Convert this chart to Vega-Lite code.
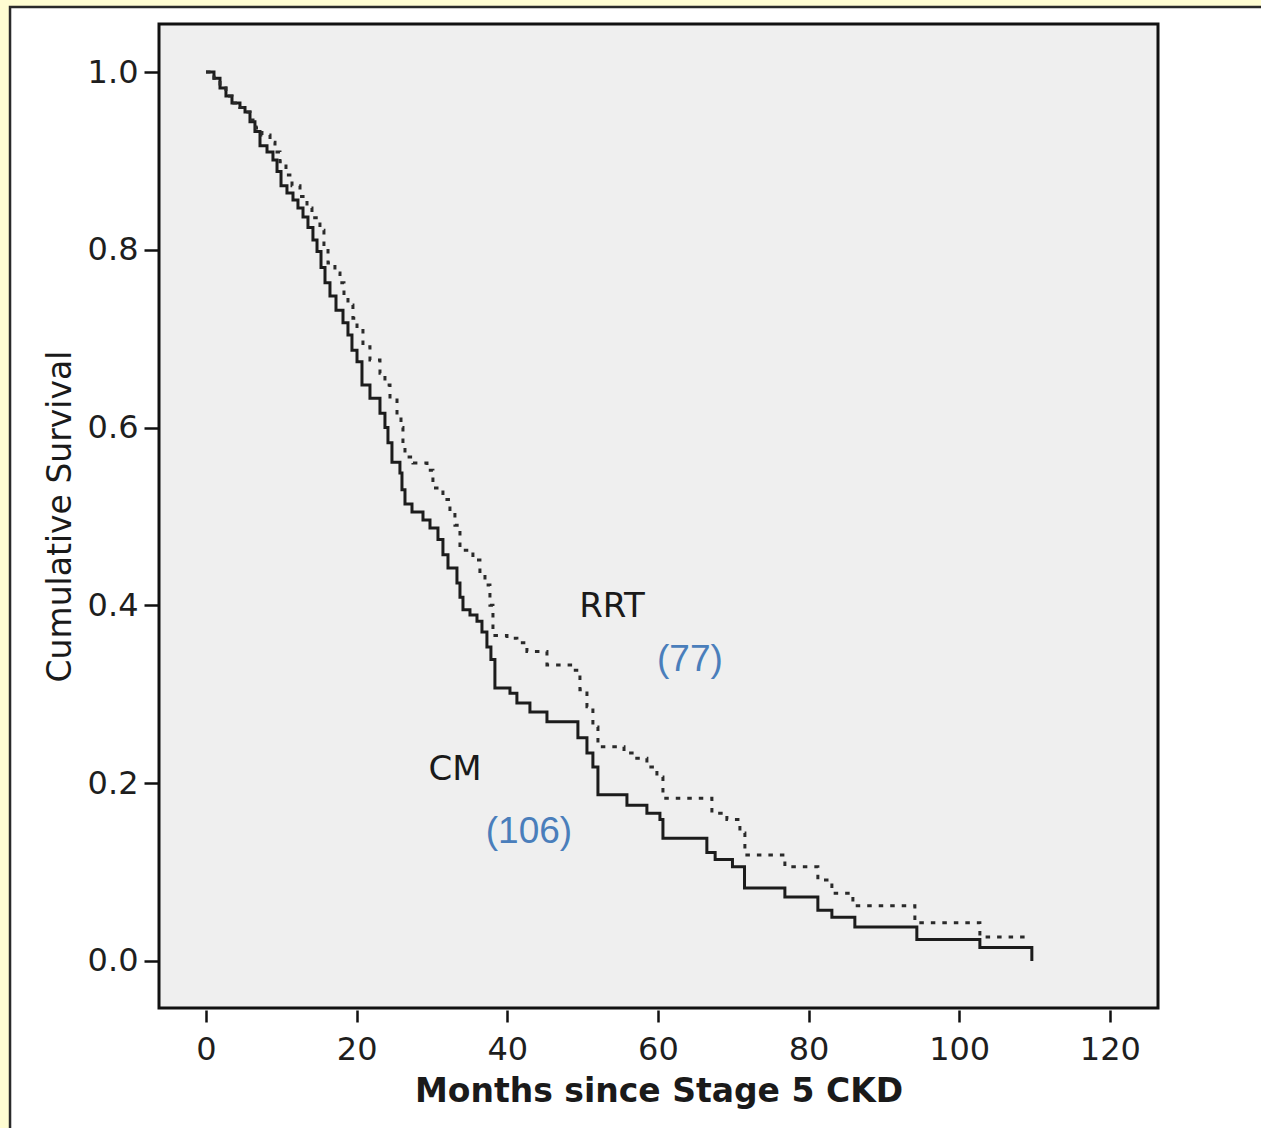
{
  "$schema": "https://vega.github.io/schema/vega-lite/v6.json",
  "width": 999,
  "height": 984,
  "autosize": {"type": "none"},
  "padding": {"left": 159, "top": 24, "right": 103, "bottom": 120},
  "background": "#FFFDD2",
  "config": {
    "view": {"stroke": null},
    "font": "DejaVu Sans",
    "axis": {
      "grid": false,
      "domain": false,
      "tickColor": "#111111",
      "tickWidth": 2.5,
      "labelFont": "DejaVu Sans",
      "labelFontSize": 32,
      "labelColor": "#1e1e1e",
      "titleFont": "DejaVu Sans",
      "titleFontSize": 33,
      "titleColor": "#1a1a1a",
      "labelFlush": false,
      "labelOverlap": false
    },
    "axisX": {"tickSize": 12, "offset": 2, "labelPadding": 12, "titlePadding": 10, "titleFontWeight": "bold"},
    "axisY": {"tickSize": 14, "offset": 1, "labelPadding": 6, "titlePadding": 10, "titleFontWeight": "normal"}
  },
  "datasets": {
    "panel": [{"part": "panel"}],
    "km": [
      {"group": "CM", "month": 0, "survival": 1.0},
      {"group": "CM", "month": 1.06, "survival": 0.993},
      {"group": "CM", "month": 1.86, "survival": 0.982},
      {"group": "CM", "month": 2.65, "survival": 0.973},
      {"group": "CM", "month": 3.45, "survival": 0.965},
      {"group": "CM", "month": 4.51, "survival": 0.96},
      {"group": "CM", "month": 5.18, "survival": 0.955},
      {"group": "CM", "month": 5.84, "survival": 0.944},
      {"group": "CM", "month": 6.5, "survival": 0.933},
      {"group": "CM", "month": 7.17, "survival": 0.917},
      {"group": "CM", "month": 8.1, "survival": 0.91},
      {"group": "CM", "month": 8.89, "survival": 0.901},
      {"group": "CM", "month": 9.43, "survival": 0.888},
      {"group": "CM", "month": 9.96, "survival": 0.872},
      {"group": "CM", "month": 10.75, "survival": 0.864},
      {"group": "CM", "month": 11.55, "survival": 0.856},
      {"group": "CM", "month": 12.21, "survival": 0.847},
      {"group": "CM", "month": 12.88, "survival": 0.837},
      {"group": "CM", "month": 13.54, "survival": 0.825},
      {"group": "CM", "month": 14.2, "survival": 0.811},
      {"group": "CM", "month": 14.74, "survival": 0.798},
      {"group": "CM", "month": 15.27, "survival": 0.78},
      {"group": "CM", "month": 15.8, "survival": 0.763},
      {"group": "CM", "month": 16.46, "survival": 0.748},
      {"group": "CM", "month": 17.26, "survival": 0.732},
      {"group": "CM", "month": 18.19, "survival": 0.718},
      {"group": "CM", "month": 18.85, "survival": 0.704},
      {"group": "CM", "month": 19.38, "survival": 0.687},
      {"group": "CM", "month": 20.05, "survival": 0.674},
      {"group": "CM", "month": 20.71, "survival": 0.648},
      {"group": "CM", "month": 21.77, "survival": 0.633},
      {"group": "CM", "month": 23.1, "survival": 0.616},
      {"group": "CM", "month": 23.76, "survival": 0.6},
      {"group": "CM", "month": 24.16, "survival": 0.583},
      {"group": "CM", "month": 24.69, "survival": 0.561},
      {"group": "CM", "month": 25.75, "survival": 0.549},
      {"group": "CM", "month": 26.02, "survival": 0.53},
      {"group": "CM", "month": 26.42, "survival": 0.514},
      {"group": "CM", "month": 27.35, "survival": 0.505},
      {"group": "CM", "month": 28.81, "survival": 0.496},
      {"group": "CM", "month": 29.74, "survival": 0.487},
      {"group": "CM", "month": 30.8, "survival": 0.474},
      {"group": "CM", "month": 31.46, "survival": 0.457},
      {"group": "CM", "month": 32.13, "survival": 0.442},
      {"group": "CM", "month": 33.32, "survival": 0.425},
      {"group": "CM", "month": 33.72, "survival": 0.409},
      {"group": "CM", "month": 34.12, "survival": 0.395},
      {"group": "CM", "month": 35.05, "survival": 0.389},
      {"group": "CM", "month": 35.98, "survival": 0.382},
      {"group": "CM", "month": 36.64, "survival": 0.37},
      {"group": "CM", "month": 37.3, "survival": 0.353},
      {"group": "CM", "month": 37.83, "survival": 0.339},
      {"group": "CM", "month": 38.36, "survival": 0.307},
      {"group": "CM", "month": 40.36, "survival": 0.301},
      {"group": "CM", "month": 41.28, "survival": 0.29},
      {"group": "CM", "month": 43.01, "survival": 0.28},
      {"group": "CM", "month": 45.27, "survival": 0.269},
      {"group": "CM", "month": 49.38, "survival": 0.251},
      {"group": "CM", "month": 50.58, "survival": 0.234},
      {"group": "CM", "month": 51.37, "survival": 0.218},
      {"group": "CM", "month": 52.04, "survival": 0.187},
      {"group": "CM", "month": 55.89, "survival": 0.175},
      {"group": "CM", "month": 58.54, "survival": 0.166},
      {"group": "CM", "month": 60.27, "survival": 0.159},
      {"group": "CM", "month": 60.67, "survival": 0.138},
      {"group": "CM", "month": 66.5, "survival": 0.122},
      {"group": "CM", "month": 67.6, "survival": 0.114},
      {"group": "CM", "month": 69.9, "survival": 0.106},
      {"group": "CM", "month": 71.5, "survival": 0.082},
      {"group": "CM", "month": 76.86, "survival": 0.072},
      {"group": "CM", "month": 81.24, "survival": 0.057},
      {"group": "CM", "month": 83.1, "survival": 0.049},
      {"group": "CM", "month": 86.15, "survival": 0.038},
      {"group": "CM", "month": 94.38, "survival": 0.024},
      {"group": "CM", "month": 102.75, "survival": 0.015},
      {"group": "CM", "month": 109.65, "survival": 0.0},
      {"group": "RRT", "month": 0, "survival": 1.0},
      {"group": "RRT", "month": 1.06, "survival": 0.993},
      {"group": "RRT", "month": 1.86, "survival": 0.982},
      {"group": "RRT", "month": 2.65, "survival": 0.973},
      {"group": "RRT", "month": 3.45, "survival": 0.965},
      {"group": "RRT", "month": 4.51, "survival": 0.96},
      {"group": "RRT", "month": 5.18, "survival": 0.955},
      {"group": "RRT", "month": 5.84, "survival": 0.946},
      {"group": "RRT", "month": 6.64, "survival": 0.937},
      {"group": "RRT", "month": 7.43, "survival": 0.929},
      {"group": "RRT", "month": 8.5, "survival": 0.921},
      {"group": "RRT", "month": 9.16, "survival": 0.91},
      {"group": "RRT", "month": 9.82, "survival": 0.899},
      {"group": "RRT", "month": 10.62, "survival": 0.884},
      {"group": "RRT", "month": 11.42, "survival": 0.872},
      {"group": "RRT", "month": 12.48, "survival": 0.86},
      {"group": "RRT", "month": 13.41, "survival": 0.847},
      {"group": "RRT", "month": 14.07, "survival": 0.836},
      {"group": "RRT", "month": 15.13, "survival": 0.822},
      {"group": "RRT", "month": 15.66, "survival": 0.802},
      {"group": "RRT", "month": 16.2, "survival": 0.785},
      {"group": "RRT", "month": 17.12, "survival": 0.774},
      {"group": "RRT", "month": 17.79, "survival": 0.763},
      {"group": "RRT", "month": 18.32, "survival": 0.749},
      {"group": "RRT", "month": 18.85, "survival": 0.738},
      {"group": "RRT", "month": 19.51, "survival": 0.723},
      {"group": "RRT", "month": 20.05, "survival": 0.712},
      {"group": "RRT", "month": 20.84, "survival": 0.691},
      {"group": "RRT", "month": 21.77, "survival": 0.676},
      {"group": "RRT", "month": 23.1, "survival": 0.661},
      {"group": "RRT", "month": 23.76, "survival": 0.648},
      {"group": "RRT", "month": 24.43, "survival": 0.631},
      {"group": "RRT", "month": 25.36, "survival": 0.614},
      {"group": "RRT", "month": 25.89, "survival": 0.6},
      {"group": "RRT", "month": 26.15, "survival": 0.58},
      {"group": "RRT", "month": 26.42, "survival": 0.567},
      {"group": "RRT", "month": 27.48, "survival": 0.56},
      {"group": "RRT", "month": 29.34, "survival": 0.552},
      {"group": "RRT", "month": 30.13, "survival": 0.532},
      {"group": "RRT", "month": 31.46, "survival": 0.519},
      {"group": "RRT", "month": 32.39, "survival": 0.505},
      {"group": "RRT", "month": 33.05, "survival": 0.49},
      {"group": "RRT", "month": 33.72, "survival": 0.462},
      {"group": "RRT", "month": 35.44, "survival": 0.451},
      {"group": "RRT", "month": 36.37, "survival": 0.438},
      {"group": "RRT", "month": 37.04, "survival": 0.423},
      {"group": "RRT", "month": 37.7, "survival": 0.4},
      {"group": "RRT", "month": 38.1, "survival": 0.366},
      {"group": "RRT", "month": 39.96, "survival": 0.363},
      {"group": "RRT", "month": 41.28, "survival": 0.358},
      {"group": "RRT", "month": 42.61, "survival": 0.348},
      {"group": "RRT", "month": 45.27, "survival": 0.333},
      {"group": "RRT", "month": 48.72, "survival": 0.327},
      {"group": "RRT", "month": 49.65, "survival": 0.305},
      {"group": "RRT", "month": 50.58, "survival": 0.286},
      {"group": "RRT", "month": 51.37, "survival": 0.263},
      {"group": "RRT", "month": 52.04, "survival": 0.241},
      {"group": "RRT", "month": 55.5, "survival": 0.234},
      {"group": "RRT", "month": 56.9, "survival": 0.228},
      {"group": "RRT", "month": 58.54, "survival": 0.218},
      {"group": "RRT", "month": 59.87, "survival": 0.207},
      {"group": "RRT", "month": 60.67, "survival": 0.183},
      {"group": "RRT", "month": 67.17, "survival": 0.166},
      {"group": "RRT", "month": 69.16, "survival": 0.159},
      {"group": "RRT", "month": 70.89, "survival": 0.144},
      {"group": "RRT", "month": 71.55, "survival": 0.119},
      {"group": "RRT", "month": 76.86, "survival": 0.106},
      {"group": "RRT", "month": 81.24, "survival": 0.091},
      {"group": "RRT", "month": 83.1, "survival": 0.076},
      {"group": "RRT", "month": 85.89, "survival": 0.062},
      {"group": "RRT", "month": 94.12, "survival": 0.043},
      {"group": "RRT", "month": 102.75, "survival": 0.027},
      {"group": "RRT", "month": 109.4, "survival": 0.027}
    ],
    "labels": [
      {"text": "RRT", "month": 53.9, "survival": 0.398},
      {"text": "CM", "month": 33.05, "survival": 0.2148}
    ],
    "counts": [
      {"text": "(77)", "month": 64.25, "survival": 0.3386},
      {"text": "(106)", "month": 42.88, "survival": 0.1451}
    ]
  },
  "layer": [
    {
      "data": {"name": "panel"},
      "mark": {"type": "rect", "fill": "#FFFFFF", "stroke": "#2a2a2a", "strokeWidth": 2.5},
      "encoding": {
        "x": {"datum": -26.02, "type": "quantitative", "scale": {"domain": [-6.24, 126.4], "nice": false, "zero": false},
              "axis": {"title": "Months since Stage 5 CKD", "values": [0, 20, 40, 60, 80, 100, 120], "format": "d", "zindex": 1}},
        "x2": {"datum": 400},
        "y": {"datum": 1.0731, "type": "quantitative", "scale": {"domain": [-0.053, 1.054], "nice": false, "zero": false},
              "axis": {"title": "Cumulative Survival", "values": [0, 0.2, 0.4, 0.6, 0.8, 1.0], "format": ".1f", "zindex": 1}},
        "y2": {"datum": -2}
      }
    },
    {
      "data": {"name": "panel"},
      "mark": {"type": "rect", "fill": "#EFEFEF", "stroke": "#111111", "strokeWidth": 3},
      "encoding": {
        "x": {"datum": -6.24, "type": "quantitative", "scale": {"domain": [-6.24, 126.4], "nice": false, "zero": false},
              "axis": {"title": "Months since Stage 5 CKD", "values": [0, 20, 40, 60, 80, 100, 120], "format": "d", "zindex": 1}},
        "x2": {"datum": 126.4},
        "y": {"datum": 1.054, "type": "quantitative", "scale": {"domain": [-0.053, 1.054], "nice": false, "zero": false},
              "axis": {"title": "Cumulative Survival", "values": [0, 0.2, 0.4, 0.6, 0.8, 1.0], "format": ".1f", "zindex": 1}},
        "y2": {"datum": -0.053}
      }
    },
    {
      "data": {"name": "km"},
      "transform": [{"filter": "datum.group === 'CM'"}],
      "mark": {"type": "line", "interpolate": "step-after", "color": "#1c1c1c", "strokeWidth": 3},
      "encoding": {
        "x": {"field": "month", "type": "quantitative", "scale": {"domain": [-6.24, 126.4], "nice": false, "zero": false},
              "axis": {"title": "Months since Stage 5 CKD", "values": [0, 20, 40, 60, 80, 100, 120], "format": "d", "zindex": 1}},
        "y": {"field": "survival", "type": "quantitative", "scale": {"domain": [-0.053, 1.054], "nice": false, "zero": false},
              "axis": {"title": "Cumulative Survival", "values": [0, 0.2, 0.4, 0.6, 0.8, 1.0], "format": ".1f", "zindex": 1}}
      }
    },
    {
      "data": {"name": "km"},
      "transform": [{"filter": "datum.group === 'RRT'"}],
      "mark": {"type": "line", "interpolate": "step-after", "color": "#2a2a2a", "strokeWidth": 3, "strokeDash": [4.5, 7]},
      "encoding": {
        "x": {"field": "month", "type": "quantitative", "scale": {"domain": [-6.24, 126.4], "nice": false, "zero": false},
              "axis": {"title": "Months since Stage 5 CKD", "values": [0, 20, 40, 60, 80, 100, 120], "format": "d", "zindex": 1}},
        "y": {"field": "survival", "type": "quantitative", "scale": {"domain": [-0.053, 1.054], "nice": false, "zero": false},
              "axis": {"title": "Cumulative Survival", "values": [0, 0.2, 0.4, 0.6, 0.8, 1.0], "format": ".1f", "zindex": 1}}
      }
    },
    {
      "data": {"name": "labels"},
      "mark": {"type": "text", "font": "DejaVu Sans", "fontSize": 34, "color": "#1a1a1a", "align": "center", "baseline": "middle"},
      "encoding": {
        "x": {"field": "month", "type": "quantitative", "scale": {"domain": [-6.24, 126.4], "nice": false, "zero": false},
              "axis": {"title": "Months since Stage 5 CKD", "values": [0, 20, 40, 60, 80, 100, 120], "format": "d", "zindex": 1}},
        "y": {"field": "survival", "type": "quantitative", "scale": {"domain": [-0.053, 1.054], "nice": false, "zero": false},
              "axis": {"title": "Cumulative Survival", "values": [0, 0.2, 0.4, 0.6, 0.8, 1.0], "format": ".1f", "zindex": 1}},
        "text": {"field": "text"}
      }
    },
    {
      "data": {"name": "counts"},
      "mark": {"type": "text", "font": "Liberation Sans", "fontSize": 37, "color": "#4A7EBB", "align": "center", "baseline": "middle"},
      "encoding": {
        "x": {"field": "month", "type": "quantitative", "scale": {"domain": [-6.24, 126.4], "nice": false, "zero": false},
              "axis": {"title": "Months since Stage 5 CKD", "values": [0, 20, 40, 60, 80, 100, 120], "format": "d", "zindex": 1}},
        "y": {"field": "survival", "type": "quantitative", "scale": {"domain": [-0.053, 1.054], "nice": false, "zero": false},
              "axis": {"title": "Cumulative Survival", "values": [0, 0.2, 0.4, 0.6, 0.8, 1.0], "format": ".1f", "zindex": 1}},
        "text": {"field": "text"}
      }
    }
  ]
}
